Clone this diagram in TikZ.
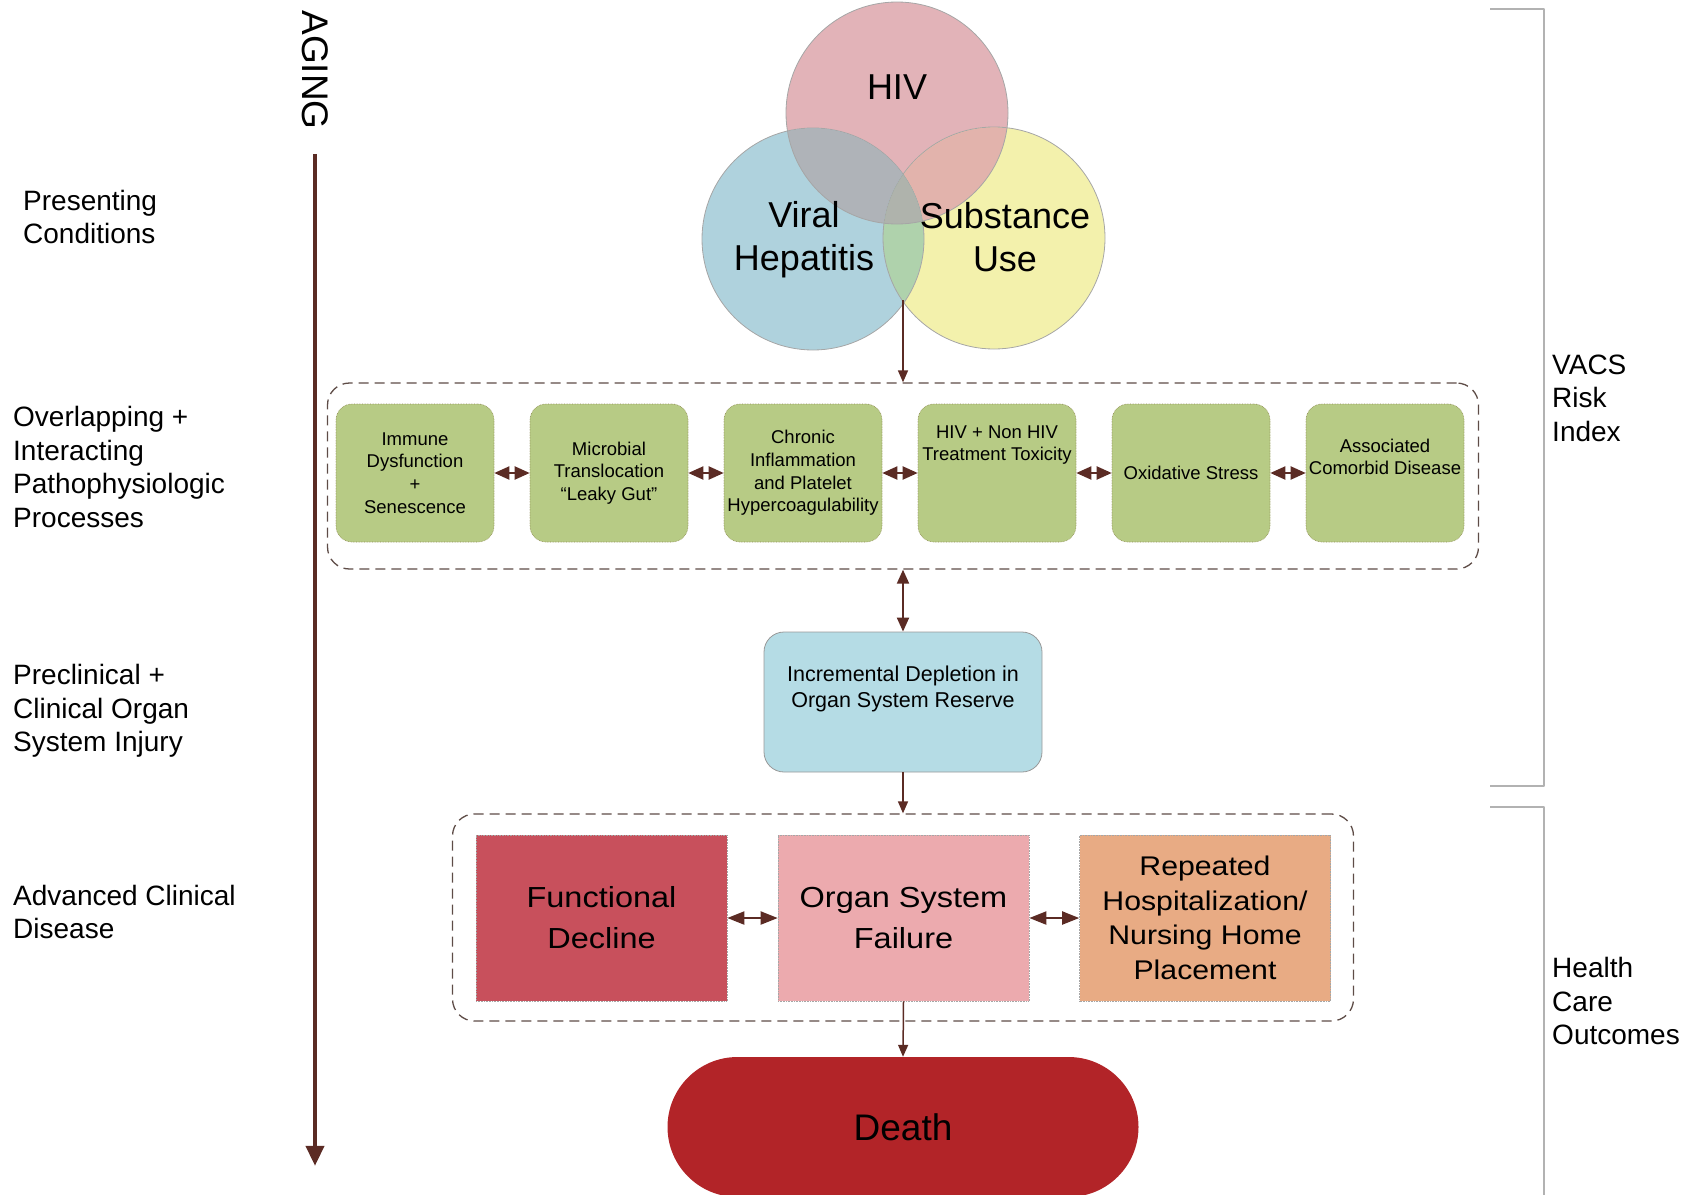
\documentclass[tikz,border=0pt]{standalone}
\usepackage{fontspec}
\setmainfont{Liberation Sans}
\newfontfamily\widefont[FakeStretch=1.12]{Liberation Sans}
\usetikzlibrary{arrows.meta,positioning}
\definecolor{arrowc}{HTML}{5B2B24}
\definecolor{dashc}{HTML}{5E4C47}
\definecolor{gboxc}{HTML}{B7CB85}
\definecolor{hivc}{HTML}{E2B3B8}
\definecolor{hepc}{HTML}{AFD2DD}
\definecolor{subc}{HTML}{F3F1AC}
\definecolor{deplc}{HTML}{B5DCE5}
\definecolor{declc}{HTML}{C8505C}
\definecolor{failc}{HTML}{ECAAAE}
\definecolor{hospc}{HTML}{E8AB84}
\definecolor{deathc}{HTML}{B22428}
\tikzset{
  venn/.style={circle, draw=gray!70, line width=0.8pt, minimum size=222pt, inner sep=0pt},
  vtext/.style={align=center, inner sep=0pt, font=\fontsize{36}{43}\selectfont},
  stagelabel/.style={anchor=west, align=left, inner sep=0pt, font=\fontsize{28}{33.5}\selectfont},
  gbox/.style={rectangle, rounded corners=16pt, fill=gboxc, draw=gray!60!olive, densely dotted, line width=0.6pt, minimum width=158pt, minimum height=138pt},
  gtext/.style={align=center, inner sep=0pt, font=\fontsize{18.5}{22.6}\selectfont},
  dashgroup/.style={rectangle, rounded corners=22pt, draw=dashc, dash pattern=on 10pt off 6pt, line width=1.3pt, inner sep=0pt},
  obox/.style={rectangle, draw=gray!70, densely dotted, line width=0.6pt, minimum width=251pt, minimum height=166pt, align=center},
  harr/.style={{Triangle[length=15pt,width=13pt]}-{Triangle[length=15pt,width=13pt]}, color=arrowc, line width=2pt},
  bharr/.style={{Triangle[length=17pt,width=13pt]}-{Triangle[length=17pt,width=13pt]}, color=arrowc, line width=2pt},
  darr/.style={{Triangle[length=14pt,width=12pt]}-{Triangle[length=14pt,width=12pt]}, color=arrowc, line width=2pt},
  varr/.style={-{Triangle[length=12pt,width=10pt]}, color=arrowc, line width=1.5pt},
  brk/.style={draw=gray!60, line width=1.5pt}
}
\begin{document}
\begin{tikzpicture}[x=1pt, y=-1pt, line join=round]
\useasboundingbox (0,0) rectangle (1689,1194);
% aging axis
\node[rotate=-90, inner sep=0pt, font=\fontsize{37}{40}\selectfont] (aging) at (315,70) {AGING};
\draw[arrowc, line width=4pt, -{Triangle[length=20pt,width=18pt]}] (aging.east) ++(0,24) -- ++(0,1012);
% stages
\node[stagelabel] (st1) at (23,217) {Presenting\\Conditions};
\node[stagelabel] (st2) at (13,467) {Overlapping +\\Interacting\\Pathophysiologic\\Processes};
\node[stagelabel] (st3) at (13,711) {Preclinical +\\Clinical Organ\\System Injury};
\node[stagelabel] (st4) at (13,912) {Advanced Clinical\\Disease};
% brackets
\draw[brk] (1490,9) -- (1544,9) -- (1544,786) -- (1490,786);
\draw[brk] (1490,807) -- (1544,807) -- (1544,1200);
\node[stagelabel] (vacs) at (1552,398) {VACS\\Risk\\Index};
\node[stagelabel] (hco) at (1552,1001) {Health\\Care\\Outcomes};
% venn
\begin{scope}[blend group=darken]
\node[venn, fill=hepc] (hep) at (813,239) {};
\node[venn, fill=subc] (sub) at (994,238) {};
\node[venn, fill=hivc] (hiv) at (897,113) {};
\end{scope}
\node[vtext] (hivt) at (897,87) {HIV};
\node[vtext] (hept) at (804,240) {Viral\\Hepatitis};
\node[vtext] (subt) at (1005,237) {Substance\\Use};
\coordinate (vbot) at (903,300);
% processes
\node[dashgroup, minimum width=1151pt, minimum height=186pt] (procbox) at (903,476) {};
\foreach \i/\x/\s/\t in {1/415/0/{Immune\\Dysfunction\\+\\Senescence},
  2/609/0/{Microbial\\Translocation\\“Leaky Gut”},
  3/803/0/{Chronic\\Inflammation\\and Platelet\\Hypercoagulability},
  4/997/-28/{HIV + Non HIV\\Treatment Toxicity},
  5/1191/0/{Oxidative Stress},
  6/1385/-16/{Associated\\Comorbid Disease}}{
  \node[gbox] (p\i) at (\x,473) {};
  \node[gtext] (pt\i) at (\x,{473+\s}) {\t};
}
\foreach \i/\j in {1/2,2/3,3/4,4/5,5/6}
  \draw[harr] (p\i) -- (p\j);
\draw[varr] (vbot) -- (procbox.north);
% reserve
\node[rectangle, rounded corners=20pt, fill=deplc, draw=gray!80, line width=0.8pt, minimum width=278pt, minimum height=140pt] (depl) at (903,702) {};
\node[align=center, inner sep=0pt, font=\fontsize{21.5}{26}\selectfont] (deplt) at (903,689) {Incremental Depletion in\\Organ System Reserve};
\draw[darr] (procbox.south) -- (depl.north);
% outcomes
\node[dashgroup, minimum width=901pt, minimum height=207pt] (outbox) at (903,917.5) {};
\node[obox, fill=declc, font={\widefont\fontsize{29}{41}\selectfont}] (decl) at (601.5,918) {Functional\\Decline};
\node[obox, fill=failc, font={\widefont\fontsize{29}{41}\selectfont}] (fail) at (903.5,918) {Organ System\\Failure};
\node[obox, fill=hospc, font={\widefont\fontsize{27}{34.5}\selectfont}] (hosp) at (1205,918) {Repeated\\Hospitalization/\\Nursing Home\\Placement};
\draw[bharr] (decl) -- (fail);
\draw[bharr] (fail) -- (hosp);
\draw[varr] (depl.south) -- (outbox.north);
\node[rectangle, fill=deathc, rounded corners=70pt, minimum width=471pt, minimum height=140pt, font=\fontsize{37}{40}\selectfont] (death) at (903,1127) {Death};
\draw[varr] (fail.south) -- (death.north);
\end{tikzpicture}
\end{document}
